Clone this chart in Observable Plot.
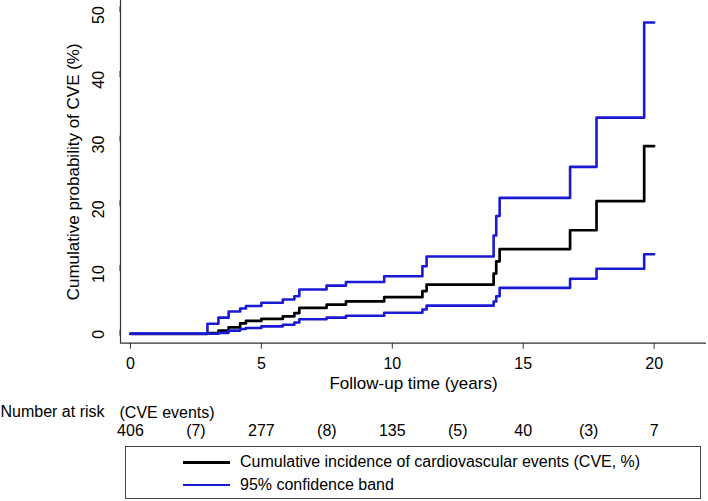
<!DOCTYPE html>
<html>
<head>
<meta charset="utf-8">
<script src="https://cdn.jsdelivr.net/npm/d3@7"></script>
<script src="https://cdn.jsdelivr.net/npm/@observablehq/plot@0.6"></script>
<style>
  body { margin: 0; background: #fff; font-family: "Liberation Sans", Arial, sans-serif; }
  #chart svg { display: block; }
  .legend { position: relative; margin-left: 125px; width: 574px; height: 51px; border: 1.5px solid #444; background: #fff; }
  .legend .row { position: absolute; left: 0; height: 20px; display: flex; align-items: center; font-size: 16px; color: #000; }
  .legend .sw { width: 47px; height: 0; border-top-width: 3px; border-top-style: solid; margin-left: 57px; margin-right: 10px; }
</style>
</head>
<body>
<div id="chart"></div>
<div class="legend">
  <div class="row" style="top:5px"><span class="sw" style="border-top-color:#000"></span><span>Cumulative incidence of cardiovascular events (CVE, %)</span></div>
  <div class="row" style="top:28px"><span class="sw" style="border-top-color:#1a1ad6;border-top-width:2.5px"></span><span>95% confidence band</span></div>
</div>
<script>
// Follow-up time (years) at each step
const times  = [0, 2.94, 3.36, 3.75, 4.19, 4.41, 5.0, 5.82, 6.26, 6.45, 7.49, 8.23, 9.69, 11.15, 11.31, 13.87, 13.97, 14.1, 16.79, 17.8, 19.62, 20.0];
// Cumulative incidence of CVE (%)
const cumInc = [0, 0.1, 0.5, 1.0, 1.6, 2.0, 2.3, 2.7, 3.2, 4.0, 4.5, 5.0, 5.66, 6.6, 7.6, 9.3, 11.2, 13.1, 16.0, 20.5, 29.0, 29.0];
// 95% confidence band
const lower  = [0, 0, 0.15, 0.5, 0.75, 0.9, 1.15, 1.4, 1.75, 2.25, 2.5, 2.8, 3.25, 3.76, 4.35, 5.0, 5.8, 7.1, 8.5, 10.05, 12.3, 12.3];
const upper  = [0, 1.55, 2.5, 3.45, 3.9, 4.3, 4.8, 5.3, 5.8, 6.85, 7.45, 8.0, 8.9, 10.45, 11.95, 15.2, 18.2, 21.0, 25.8, 33.4, 48.1, 48.1];

// Risk table
const riskTimes = [0, 5, 10, 15, 20];
const atRisk    = [406, 277, 135, 40, 7];
const eventTimes = [2.5, 7.5, 12.5, 17.5];
const events     = [7, 8, 5, 3];

const xTicks = [0, 5, 10, 15, 20];
const yTicks = [0, 10, 20, 30, 40, 50];
const xDomain = [-0.38, 22];
const yDomain = [-1.45, 51.5];

const rows = times.map((t, i) => ({t, est: cumInc[i], lo: lower[i], hi: upper[i]}));
const riskRows = riskTimes.map((t, i) => ({t, label: String(atRisk[i])}))
  .concat(eventTimes.map((t, i) => ({t, label: `(${events[i]})`})));

const blue = "#1a1ad6";
const axisColor = "#333";

const chart = Plot.plot({
  width: 708,
  height: 446,
  marginLeft: 120,
  marginRight: 2,
  marginTop: 0,
  marginBottom: 446 - 342.7,
  style: {fontFamily: '"Liberation Sans", Arial, sans-serif', fontSize: "16px", color: "#000", background: "#fff"},
  x: {domain: xDomain},
  y: {domain: yDomain},
  marks: [
    Plot.ruleY([yDomain[0]], {stroke: axisColor, strokeWidth: 1.2}),
    Plot.ruleX([xDomain[0]], {stroke: axisColor, strokeWidth: 1.2}),
    Plot.axisX({ticks: xTicks, tickSize: 6, tickPadding: 8, fontSize: 16, label: null, stroke: axisColor, color: "#000"}),
    Plot.axisY({ticks: yTicks, tickSize: 6, tickPadding: 16, rotate: -90, dy: -4, fontSize: 16, label: null, stroke: axisColor, color: "#000"}),
    Plot.text(["Follow-up time (years)"], {frameAnchor: "bottom", dy: 45.5, fontSize: 17, fill: "#000"}),
    Plot.text(["Cumulative probability of CVE (%)"], {frameAnchor: "left", textAnchor: "middle", dx: -47, rotate: -90, fontSize: 17, fill: "#000"}),
    Plot.text(["Number at risk"], {frameAnchor: "bottom-left", dx: -120, dy: 74, textAnchor: "start", fontSize: 16, fill: "#000"}),
    Plot.text(["(CVE events)"], {frameAnchor: "bottom-left", dx: -1, dy: 75, textAnchor: "start", fontSize: 16, fill: "#000"}),
    Plot.text(riskRows, {x: "t", frameAnchor: "bottom", dy: 92.5, text: "label", fontSize: 16, fill: "#000"}),
    Plot.line(rows, {x: "t", y: "est", curve: "step-after", stroke: "#000", strokeWidth: 2.7}),
    Plot.line(rows, {x: "t", y: "lo", curve: "step-after", stroke: blue, strokeWidth: 2.6}),
    Plot.line(rows, {x: "t", y: "hi", curve: "step-after", stroke: blue, strokeWidth: 2.6})
  ]
});
document.getElementById("chart").appendChild(chart);
</script>
</body>
</html>
